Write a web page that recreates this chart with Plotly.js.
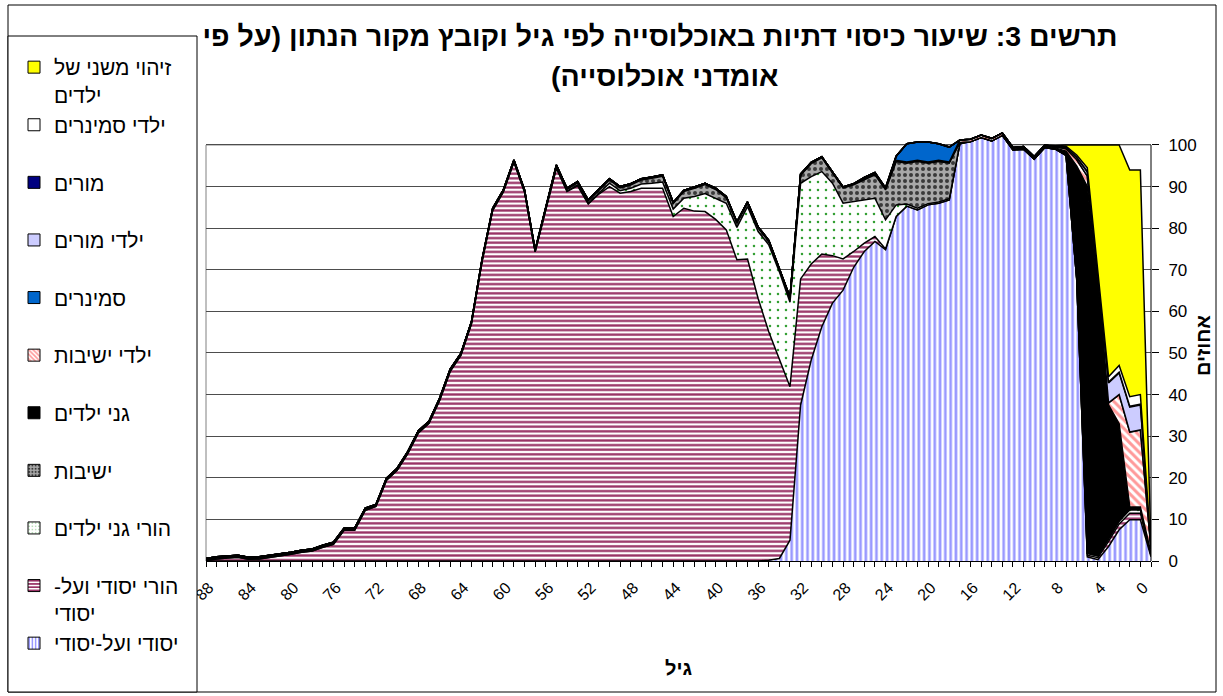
<!DOCTYPE html>
<html><head><meta charset="utf-8">
<script src="https://cdn.plot.ly/plotly-3.0.1.min.js"></script>
<style>html,body{margin:0;padding:0;background:#fff}#chart{width:1223px;height:696px}</style>
</head><body><div id="chart"></div>
<script>
// Age categories (index 0 = age 88 ... index 88 = age 0, last = trailing empty category)
const ages = [88,87,86,85,84,83,82,81,80,79,78,77,76,75,74,73,72,71,70,69,68,67,66,65,64,63,62,61,60,59,58,57,56,55,54,53,52,51,50,49,48,47,46,45,44,43,42,41,40,39,38,37,36,35,34,33,32,31,30,29,28,27,26,25,24,23,22,21,20,19,18,17,16,15,14,13,12,11,10,9,8,7,6,5,4,3,2,1,0,-1];

// Series values (percent), stacking order bottom -> top
const elementary = [0,0,0,0,0,0,0,0,0,0,0,0,0,0,0,0,0,0,0,0,0,0,0,0,0,0,0,0,0,0,0,0,0,0,0,0,0,0,0,0,0,0,0,0,0,0,0,0,0,0,0,0,0,0.2,0.6,5.0,37.5,48.3,56.3,62.0,65.1,70.6,74.4,76.8,74.8,82.8,85.3,84.4,85.6,86.0,86.8,100.3,100.8,101.8,101.0,102.3,98.8,99.0,96.6,99.4,99.0,97.5,68.0,1.0,0.3,3.5,7.5,9.9,9.9,1.0];
const parentsElementary = [0.1,0.5,0.7,0.9,0.4,0.5,0.9,1.2,1.6,2.1,2.4,3.3,4.0,7.4,7.4,12.2,13.1,19.4,21.8,25.8,30.8,33.1,38.6,45.6,49.4,57.0,72.0,84.3,88.7,95.9,88.7,74.3,84.5,94.4,88.8,90.2,85.8,88.2,90.0,88.4,88.8,89.6,89.6,89.6,82.8,84.8,84.1,84.0,82.1,79.6,72.4,72.6,63.1,54.9,48.1,36.9,30.3,23.1,17.5,11.4,7.5,3.8,2.0,1.2,0.2,0,0,0,0,0,0,0,0,0,0,0,0,0,0,0,0,0,0,0.4,0.5,1.2,1.4,1.6,1.6,0.3];
const parentsKindergarten = [0,0,0,0,0,0,0,0,0,0,0,0,0,0,0,0,0,0,0,0,0,0,0,0,0,0,0,0,0,0,0,0,0,0.1,0.1,0.2,0.2,0.3,0.8,0.6,0.8,1.0,1.2,1.5,1.8,2.4,3.5,4.3,5.0,6.4,7.8,12.6,16.1,20.9,20.8,20.3,23.0,21.0,19.8,17.4,13.4,12.0,10.4,9.2,7.0,2.8,0.5,0.4,0.3,0.3,0.3,0,0,0,0,0,0,0,0,0,0,0,0,0.4,0.4,0.6,0.7,0.8,0.8,0.2];
const yeshivot = [0.2,0.2,0.2,0.2,0.2,0.2,0.2,0.2,0.2,0.2,0.2,0.2,0.2,0.2,0.2,0.2,0.2,0.2,0.2,0.2,0.2,0.2,0.2,0.2,0.2,0.2,0.2,0.2,0.2,0.2,0.2,0.2,0.2,0.4,0.4,0.5,0.5,0.5,0.8,0.7,0.8,1.0,1.2,1.4,1.3,1.6,2.0,2.2,2.2,1.3,1.0,0.8,0.8,0.8,0.7,0.9,1.9,3.1,3.3,2.5,3.6,4.0,4.8,5.6,7.2,10.4,9.8,11.2,9.7,9.7,8.5,0.3,0,0,0,0,0,0,0,0,0,0,0,0,0,0,0,0,0,0];
const kindergartens = [0.3,0.3,0.3,0.3,0.3,0.3,0.3,0.3,0.3,0.3,0.3,0.3,0.3,0.3,0.3,0.3,0.3,0.3,0.3,0.3,0.3,0.3,0.3,0.3,0.3,0.3,0.3,0.3,0.3,0.3,0.3,0.3,0.3,0.3,0.3,0.3,0.3,0.3,0.3,0.3,0.3,0.3,0.3,0.3,0.3,0.3,0.3,0.3,0.3,0.3,0.3,0.3,0.3,0.3,0.3,0.3,0.3,0.3,0.3,0.3,0.3,0.3,0.3,0.3,0.3,0.3,0.3,0.3,0.3,0.3,0.3,0,0,0,0,0,0.4,0.4,0.4,0.4,0.3,1.0,27.0,88.2,65.0,32.2,23.4,0.7,0.7,0.4];
const yeshivaKids = [0,0,0,0,0,0,0,0,0,0,0,0,0,0,0,0,0,0,0,0,0,0,0,0,0,0,0,0,0,0,0,0,0,0,0,0,0,0,0,0,0,0,0,0,0,0,0,0,0,0,0,0,0,0,0,0,0,0,0,0,0,0,0,0,0,0,0,0,0,0,0,0.6,0.6,0.6,0.6,0.6,0.2,0.2,0.2,0.2,0.3,0.6,1.5,2.5,1.5,0.5,7.0,18.0,18.5,1.0];
const seminaries = [0,0,0,0,0,0,0,0,0,0,0,0,0,0,0,0,0,0,0,0,0,0,0,0,0,0,0,0,0,0,0,0,0,0,0,0,0,0,0,0,0,0,0,0,0,0,0,0,0,0,0,0,0,0,0,0,0,0,0,0,0,0,0.3,0.3,0.2,1.0,4.4,4.4,4.8,4.0,3.6,0,0,0,0,0,0,0,0,0,0,0,0,0,0,0,0,0,0,0];
const teachersKids = [0,0,0,0,0,0,0,0,0,0,0,0,0,0,0,0,0,0,0,0,0,0,0,0,0,0,0,0,0,0,0,0,0,0,0,0,0,0,0,0,0,0,0,0,0,0,0,0,0,0,0,0,0,0,0,0,0,0,0,0,0,0,0,0,0,0,0,0,0,0,0,0,0,0,0,0,0,0,0,0,0,0.3,0.5,1.0,1.2,4.8,5.2,6.0,6.0,0.2];
const teachers = [0,0,0,0,0,0,0,0,0,0,0,0,0,0,0,0,0,0,0,0,0,0,0,0,0,0,0,0,0,0,0,0,0,0,0,0,0,0,0,0,0,0,0,0,0,0,0,0,0,0,0,0,0,0,0,0,0,0,0,0,0,0,0,0,0,0,0,0,0,0,0,0,0,0,0,0,0,0,0,0,0,0.1,0.1,0.2,0.1,0.2,0.2,0.2,0.2,0];
const seminaryKids = [0,0,0,0,0,0,0,0,0,0,0,0,0,0,0,0,0,0,0,0,0,0,0,0,0,0,0,0,0,0,0,0,0,0,0,0,0,0,0,0,0,0,0,0,0,0,0,0,0,0,0,0,0,0,0,0,0,0,0,0,0,0,0,0,0,0,0,0,0,0,0,0,0,0,0,0,0,0,0,0,0,0.2,0.5,0.8,1.2,1.3,1.6,2.3,2.3,0];
const secondaryId = [0,0,0,0,0,0,0,0,0,0,0,0,0,0,0,0,0,0,0,0,0,0,0,0,0,0,0,0,0,0,0,0,0,0,0,0,0,0,0,0,0,0,0,0,0,0,0,0,0,0,0,0,0,0,0,0,0,0,0,0,0,0,0,0,0,0,0,0,0,0,0,0,0,0,0,0,0,0,0,0,0.2,0.3,2.4,5.5,29.8,55.7,53.0,54.5,54.0,0.5];

// right-to-left embedding so Hebrew punctuation sits as in the original
const RLE = '\u202B', PDF = '\u202C';
const rtl = s => RLE + s + PDF;

const names = {
  elementary: 'יסודי ועל-יסודי',
  parentsElementary: 'הורי יסודי ועל-יסודי',
  parentsKindergarten: 'הורי גני ילדים',
  yeshivot: 'ישיבות',
  kindergartens: 'גני ילדים',
  yeshivaKids: 'ילדי ישיבות',
  seminaries: 'סמינרים',
  teachersKids: 'ילדי מורים',
  teachers: 'מורים',
  seminaryKids: 'ילדי סמינרים',
  secondaryId: 'זיהוי משני של ילדים'
};
const legendLabels = {
  parentsElementary: rtl('הורי יסודי ועל-') + '<br>' + rtl('יסודי'),
  secondaryId: rtl('זיהוי משני של') + '<br>' + rtl('ילדים')
};

const styles = {
  elementary: {fill:'#FFFFFF', pat:{shape:'|', fgcolor:'#9999FF', bgcolor:'#FFFFFF', size:5.3, solidity:0.5}},
  parentsElementary: {fill:'#FFFFFF', pat:{shape:'-', fgcolor:'#993366', bgcolor:'#FFFFFF', size:4.6, solidity:0.5}},
  parentsKindergarten: {fill:'#FFFFFF', pat:{shape:'.', fgcolor:'#33A033', bgcolor:'#FFFFFF', size:8, solidity:0.08}},
  yeshivot: {fill:'#A0A0A0', pat:{shape:'.', fgcolor:'#3A3A3A', bgcolor:'#A8A8A8', size:6, solidity:0.35}},
  kindergartens: {fill:'#000000'},
  yeshivaKids: {fill:'#FFFFFF', pat:{shape:'\\', fgcolor:'#FF9999', bgcolor:'#FFFFFF', size:6, solidity:0.5}},
  seminaries: {fill:'#0066CC'},
  teachersKids: {fill:'#CCCCFF'},
  teachers: {fill:'#000080'},
  seminaryKids: {fill:'#FFFFFF'},
  secondaryId: {fill:'#FFFF00'}
};
const series = {elementary, parentsElementary, parentsKindergarten, yeshivot, kindergartens, yeshivaKids, seminaries, teachersKids, teachers, seminaryKids, secondaryId};
const stackOrder = ['elementary','parentsElementary','parentsKindergarten','yeshivot','kindergartens','yeshivaKids','seminaries','teachersKids','teachers','seminaryKids','secondaryId'];
const legendOrder = stackOrder.slice().reverse();

const FONT = '"Liberation Sans", Arial, "DejaVu Sans", sans-serif';
const traces = [];
stackOrder.forEach(k => {
  const s = styles[k];
  const t = {
    type:'scatter', mode:'lines', x: ages, y: series[k], name: names[k],
    stackgroup:'one', line:{color:'#000000', width:1.5, shape:'linear'},
    fillcolor: s.fill, showlegend:false, hoverinfo:'skip'
  };
  if (s.pat) t.fillpattern = Object.assign({fillmode:'replace'}, s.pat);
  traces.push(t);
});
// legend swatches (square symbols); they carry no plotted values
legendOrder.forEach(k => {
  const s = styles[k];
  const m = {color: s.fill, line:{color:'#000000', width:1}};
  if (s.pat) m.pattern = Object.assign({fillmode:'replace'}, s.pat, {size: Math.min(s.pat.size, 4)});
  traces.push({type:'bar', x:[null], y:[null], name: legendLabels[k] || (rtl(names[k]) + '<br>&nbsp;'),
    marker:m, showlegend:true, hoverinfo:'skip'});
});

// pixel helpers for layout decorations
const L=206, R=1151, T=130, B=561;
const px = v => (v-L)/(R-L);
const py = v => (B-v)/(B-T);

const layout = {
  width:1223, height:696,
  margin:{l:L, r:1223-R, t:T, b:696-B, pad:0},
  paper_bgcolor:'#FFFFFF', plot_bgcolor:'#FFFFFF',
  font:{family:FONT, color:'#000000'},
  showlegend:true,
  title:{text:'<b>' + rtl('תרשים 3: שיעור כיסוי דתיות באוכלוסייה לפי גיל וקובץ מקור הנתון (על פי') + '</b>',
    font:{family:FONT, size:28.5, color:'#000000'}, x:660/1223, xanchor:'center', xref:'container',
    y:1-36/696, yanchor:'middle', yref:'container'},
  xaxis:{range:[88,-1], autorange:false, tickmode:'linear', tick0:0, dtick:4,
    ticks:'outside', ticklen:5, tickcolor:'#000000', tickwidth:1,
    showline:true, linecolor:'#000000', linewidth:1, showgrid:false, zeroline:false,
    tickangle:-45, ticklabelshift:-3, ticklabelstandoff:5, tickfont:{family:FONT, size:16, color:'#000000'},
    minor:{dtick:1, tick0:0, ticks:'outside', ticklen:5, tickcolor:'#000000', showgrid:false},
    title:{text:'<b>גיל</b>', font:{family:FONT, size:20, color:'#000000'}, standoff:58}},
  yaxis:{side:'right', range:[0,103.6], autorange:false, tickmode:'linear', tick0:0, dtick:10,
    ticks:'outside', ticklen:7, tickcolor:'#000000', showline:false, showgrid:true,
    gridcolor:'#4D4D4D', gridwidth:1, zeroline:false, ticklabelstandoff:6,
    tickfont:{family:FONT, size:17, color:'#000000'},
    title:{text:'<b>אחוזים</b>', font:{family:FONT, size:20, color:'#000000'}, standoff:0}},
  legend:{x:14/1223, y:1-47/696, xref:'container', yref:'container', xanchor:'left', yanchor:'top',
    maxheight:690, bgcolor:'rgba(0,0,0,0)', borderwidth:0,
    font:{family:FONT, size:21, color:'#000000'}, valign:'top', traceorder:'normal'},
  annotations:[{text:'<b>' + rtl('אומדני אוכלוסייה)') + '</b>', xref:'paper', yref:'paper', x:px(665), y:py(76),
    xanchor:'center', yanchor:'middle', showarrow:false, font:{family:FONT, size:28.5, color:'#000000'}}],
  shapes:[
    {type:'rect', xref:'paper', yref:'paper', x0:px(8), x1:px(1216), y0:py(692), y1:py(5), line:{color:'#000000', width:1}, layer:'below'},
    {type:'rect', xref:'paper', yref:'paper', x0:px(8), x1:px(197), y0:py(692), y1:py(36), line:{color:'#000000', width:1}, fillcolor:'#FFFFFF', layer:'above'},
    {type:'line', xref:'paper', yref:'y', x0:0, x1:1, y0:100, y1:100, line:{color:'#808080', width:1}, layer:'below'},
    {type:'line', xref:'paper', yref:'y', x0:0, x1:0, y0:0, y1:100, line:{color:'#808080', width:1}, layer:'below'},
    {type:'line', xref:'paper', yref:'y', x0:1, x1:1, y0:0, y1:100, line:{color:'#000000', width:1}}
  ]
};
Plotly.newPlot('chart', traces, layout, {staticPlot:true, displayModeBar:false});
</script></body></html>
